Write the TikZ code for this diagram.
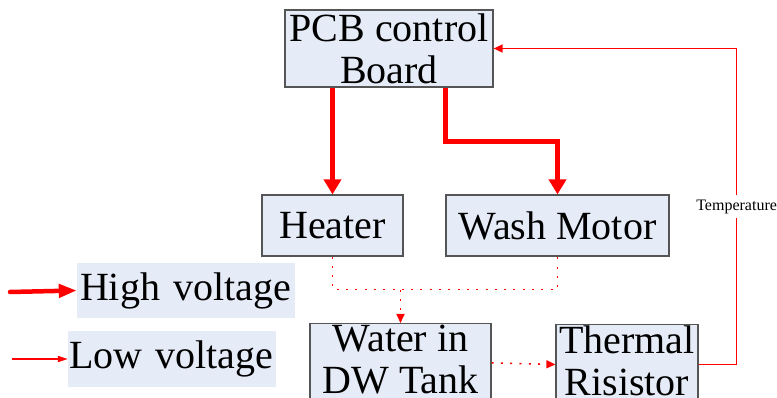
\documentclass[tikz,border=0pt]{standalone}
\usepackage{fontspec}
\setmainfont{Liberation Serif}
\usetikzlibrary{arrows.meta,calc}
\definecolor{boxfill}{RGB}{230,236,247}
\definecolor{boxline}{RGB}{85,85,85}
\tikzset{
    blockbox/.style={draw=boxline, line width=1.2pt, fill=boxfill, align=center,
        font=\fontsize{40}{42}\selectfont, inner sep=1pt},
    legendbox/.style={fill=boxfill, font=\fontsize{40}{42}\selectfont, align=left},
    highline/.style={draw=red, line width=5pt, -{Triangle[width=17pt,length=15pt]}},
    lowline/.style={draw=red, line width=1.6pt, -{Triangle[width=8pt,length=9pt]}},
    dotline/.style={draw=red, line width=1.6pt, dash pattern=on 2pt off 7.3pt},
    tempnote/.style={fill=white, font=\fontsize{16}{17}\selectfont, inner sep=5pt}
}
\begin{document}
\begin{tikzpicture}[
        x=1pt, y=-1pt, % 像素坐标
    ]
    \clip (0,0) rectangle (777,398);
    % 方框
    \node[blockbox, minimum width=208pt, minimum height=77pt] (pcb) at (389,48.5) {PCB control\\Board};
    \node[blockbox, minimum width=141pt, minimum height=61pt] (heater) at (332.5,225.5) {Heater};
    \node[blockbox, minimum width=223pt, minimum height=61pt] (wash) at (557.5,225.5) {Wash Motor};
    \node[blockbox, minimum width=181pt, anchor=north] (water) at (400.5,323) {Water in\\DW Tank\rule[-8pt]{0pt}{8pt}};
    \node[blockbox, minimum width=142pt, anchor=north] (therm) at (627,324) {Thermal\\Risistor\rule[-8pt]{0pt}{8pt}};

    % 图例
    \node[legendbox, text width=212pt, inner xsep=3pt, minimum height=55pt] (high) at (186,290.5) {\mbox{High voltage}};
    \node[legendbox, text width=206pt, inner xsep=1pt, minimum height=56pt] (low) at (172,359) {\mbox{Low voltage}};
    \coordinate (hstart) at (10,292);
    \coordinate (lstart) at (12,359);
    \draw[draw=red, line width=4.5pt, line cap=round, -{Triangle[width=13pt,length=18pt]}] (hstart) -- (high.west);
    \draw[lowline, -{Triangle[width=6pt,length=10pt]}] (lstart) -- (low.west);

    % 高压
    \draw[highline] (pcb.south -| heater.north) -- (heater.north);
    \draw[highline] (pcb.south -| wash.west) -- ++(0,54) -| (wash.north);

    % 热传递
    \draw[dotline] (heater.south) -- ++(0,33) coordinate (join) -| (wash.south);
    \draw[dotline, -{Triangle[width=8pt,length=9pt]}] (join -| water.north) -- (water.north);
    \draw[dotline, -{Triangle[width=8pt,length=9pt]}] (water.east) -- (therm.west);

    % 温度反馈
    \draw[lowline] (therm.east) -- ++(38,0) |- node[tempnote, pos=0.25] {Temperature} (pcb.east);
\end{tikzpicture}
\end{document}
